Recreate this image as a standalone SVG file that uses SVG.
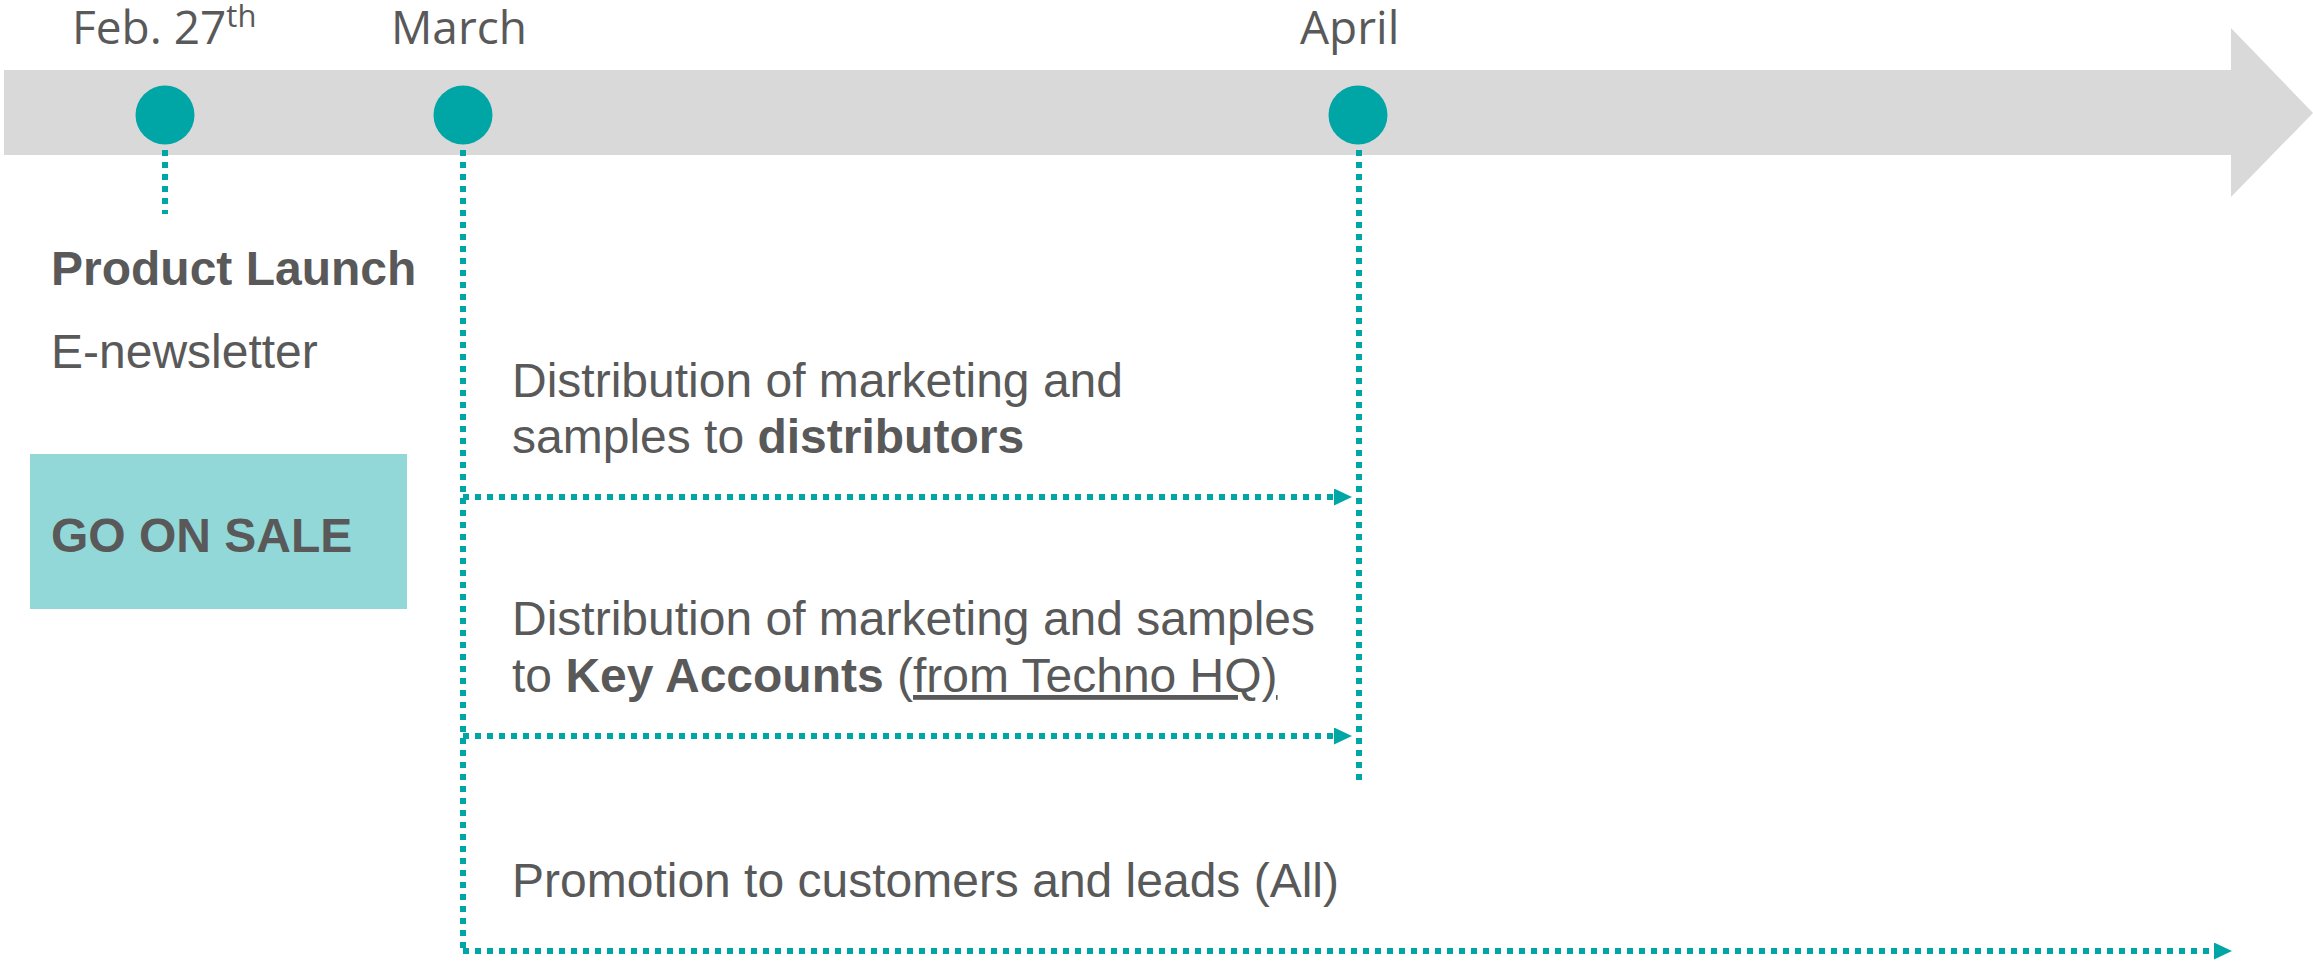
<svg xmlns="http://www.w3.org/2000/svg" width="2313" height="961" viewBox="0 0 2313 961">
<defs>
<style>
.lbl{font-family:"Liberation Sans",Arial,sans-serif;font-size:48px;fill:#595959}
.b{font-weight:bold}
.date{font-family:"Open Sans",sans-serif;font-size:46px;fill:#595959}
.dot{stroke:#00A6A6;stroke-width:6;stroke-dasharray:6 6;fill:none}
.pt{fill:#00A6A6}
</style>
<marker id="ah" markerUnits="userSpaceOnUse" markerWidth="18" markerHeight="17" refX="0" refY="8.5" orient="auto">
<path d="M0,0 L18,8.5 L0,17 z" fill="#00A6A6"/>
</marker>
</defs>
<rect width="2313" height="961" fill="#ffffff"/>
<g id="timeline">
<polygon points="4,70 2231,70 2231,28 2313,113 2231,197 2231,155 4,155" fill="#D9D9D9"/>
</g>
<g id="connectors">
<line class="dot" x1="165" y1="150" x2="165" y2="214"/>
<line class="dot" x1="463" y1="150" x2="463" y2="952"/>
<line class="dot" x1="1359" y1="150" x2="1359" y2="784"/>
<line class="dot" x1="463" y1="497" x2="1334" y2="497" marker-end="url(#ah)"/>
<line class="dot" x1="463" y1="736" x2="1334" y2="736" marker-end="url(#ah)"/>
<line class="dot" x1="463" y1="951" x2="2214" y2="951" marker-end="url(#ah)"/>
</g>
<g id="feb">
<circle class="pt" cx="165" cy="115" r="29.5"/>
<text class="date" x="72" y="44">Feb. 27<tspan font-size="31" dy="-17">th</tspan></text>
</g>
<g id="march">
<circle class="pt" cx="463" cy="115" r="29.5"/>
<text class="date" x="391" y="44">March</text>
</g>
<g id="april">
<circle class="pt" cx="1358" cy="115" r="29.5"/>
<text class="date" x="1300" y="44">April</text>
</g>
<g id="launch">
<text class="lbl b" x="51" y="285">Product Launch</text>
<text class="lbl" x="51" y="368">E-newsletter</text>
</g>
<g id="go-on-sale">
<rect x="30" y="454" width="377" height="155" fill="#93D8D8"/>
<text class="lbl b" x="51" y="552">GO ON SALE</text>
</g>
<g id="distributors">
<text class="lbl" x="512" y="397">Distribution of marketing and</text>
<text class="lbl" x="512" y="453">samples to <tspan class="b">distributors</tspan></text>
</g>
<g id="key-accounts">
<text class="lbl" x="512" y="635">Distribution of marketing and samples</text>
<text class="lbl" x="512" y="692">to <tspan class="b">Key Accounts</tspan> (<tspan text-decoration="underline">from Techno HQ)</tspan></text>
</g>
<g id="promotion">
<text class="lbl" x="512" y="897">Promotion to customers and leads (All)</text>
</g>
</svg>
